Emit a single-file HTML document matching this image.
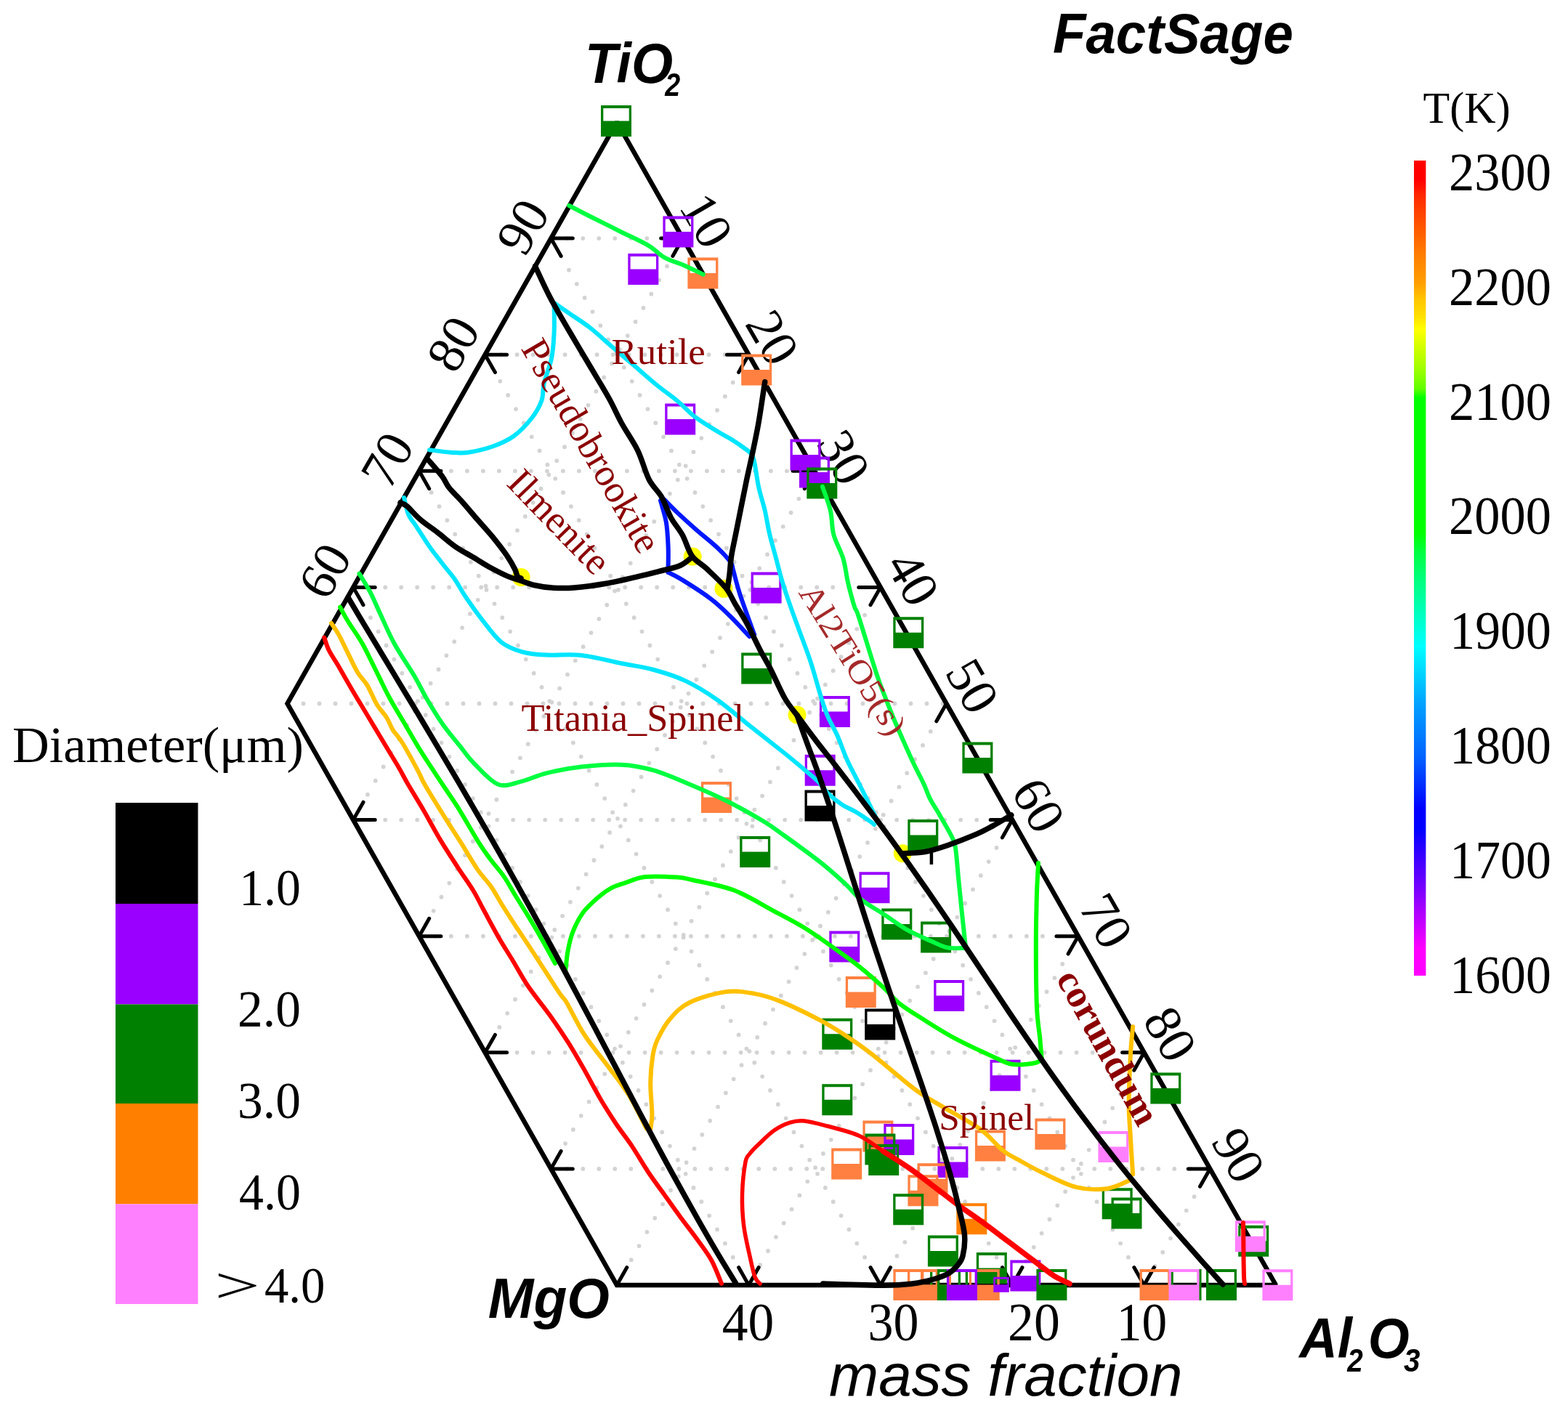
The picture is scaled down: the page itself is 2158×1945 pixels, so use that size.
<!DOCTYPE html>
<html><head><meta charset="utf-8"><title>FactSage TiO2-MgO-Al2O3</title>
<style>html,body{margin:0;padding:0;background:#fff;}svg{display:block;}</style></head>
<body><svg xmlns="http://www.w3.org/2000/svg" width="2158" height="1945" viewBox="0 0 2158 1945">
<rect width="2158" height="1945" fill="#fff"/>
<path d="M758.3,1608.9L1665.3,1608.9 M667.6,1448.8L1574.6,1448.8 M576.9,1288.7L1483.9,1288.7 M486.2,1128.6L1393.2,1128.6 M395.5,968.5L1302.5,968.5 M486.2,808.4L1211.8,808.4 M576.9,648.3L1121.1,648.3 M667.6,488.2L1030.4,488.2 M758.3,328.1L939.7,328.1 M939.7,328.1L486.2,1128.6 M1030.4,488.2L576.9,1288.7 M1121.1,648.3L667.6,1448.8 M1211.8,808.4L758.3,1608.9 M1302.5,968.5L849,1769 M1393.2,1128.6L1030.4,1769 M1483.9,1288.7L1211.8,1769 M1574.6,1448.8L1393.2,1769 M1665.3,1608.9L1574.6,1769 M1574.6,1769L758.3,328.1 M1393.2,1769L667.6,488.2 M1211.8,1769L576.9,648.3 M1030.4,1769L486.2,808.4" stroke="#d3d3d3" stroke-width="5.8" stroke-linecap="round" stroke-dasharray="0 22" fill="none"/>
<polygon points="849,168 395.5,968.5 849,1769 1756,1769" fill="none" stroke="#000" stroke-width="6.5" stroke-linejoin="miter" stroke-miterlimit="1.5"/>
<path d="M486.2,808.4L516.2,808.4 M486.2,808.4L500,832.8 M576.9,648.3L606.9,648.3 M576.9,648.3L590.7,672.7 M667.6,488.2L697.6,488.2 M667.6,488.2L681.4,512.6 M758.3,328.1L788.3,328.1 M758.3,328.1L772.1,352.5 M939.7,328.1L909.7,328.1 M939.7,328.1L925.9,352.5 M1030.4,488.2L1000.4,488.2 M1030.4,488.2L1016.6,512.6 M1121.1,648.3L1091.1,648.3 M1121.1,648.3L1107.3,672.7 M1211.8,808.4L1181.8,808.4 M1211.8,808.4L1198,832.8 M1302.5,968.5L1288.7,992.9 M1393.2,1128.6L1363.2,1128.6 M1393.2,1128.6L1379.4,1153 M1483.9,1288.7L1453.9,1288.7 M1483.9,1288.7L1470.1,1313.1 M1574.6,1448.8L1544.6,1448.8 M1574.6,1448.8L1560.8,1473.2 M1665.3,1608.9L1635.3,1608.9 M1665.3,1608.9L1651.5,1633.3 M1574.6,1769L1560.8,1744.6 M1574.6,1769L1588.4,1744.6 M1393.2,1769L1379.4,1744.6 M1393.2,1769L1407,1744.6 M1211.8,1769L1198,1744.6 M1211.8,1769L1225.6,1744.6 M1030.4,1769L1016.6,1744.6 M1030.4,1769L1044.2,1744.6 M849,1769L862.8,1744.6 M758.3,1608.9L788.3,1608.9 M758.3,1608.9L772.1,1584.5 M667.6,1448.8L697.6,1448.8 M667.6,1448.8L681.4,1424.4 M576.9,1288.7L606.9,1288.7 M576.9,1288.7L590.7,1264.3 M486.2,1128.6L516.2,1128.6 M486.2,1128.6L500,1104.2" stroke="#000" stroke-width="5" stroke-linecap="round" fill="none"/>
<text transform="translate(719.7,312.7) rotate(-60) translate(-35.5,23.5)" font-family="Liberation Serif, 'Times New Roman', serif" font-size="72" fill="#000">90</text>
<text transform="translate(624.2,473.6) rotate(-60) translate(-36,23.5)" font-family="Liberation Serif, 'Times New Roman', serif" font-size="72" fill="#000">80</text>
<text transform="translate(533.8,632.5) rotate(-60) translate(-37,23.5)" font-family="Liberation Serif, 'Times New Roman', serif" font-size="72" fill="#000">70</text>
<text transform="translate(447.5,786) rotate(-60) translate(-36,23.5)" font-family="Liberation Serif, 'Times New Roman', serif" font-size="72" fill="#000">60</text>
<text transform="translate(972.5,305) rotate(60) translate(-37.5,23.5)" font-family="Liberation Serif, 'Times New Roman', serif" font-size="72" fill="#000">10</text>
<text transform="translate(1062.5,465) rotate(60) translate(-36,23.5)" font-family="Liberation Serif, 'Times New Roman', serif" font-size="72" fill="#000">20</text>
<text transform="translate(1160.5,629.7) rotate(60) translate(-36,23.5)" font-family="Liberation Serif, 'Times New Roman', serif" font-size="72" fill="#000">30</text>
<text transform="translate(1255.3,795.6) rotate(60) translate(-35,23.5)" font-family="Liberation Serif, 'Times New Roman', serif" font-size="72" fill="#000">40</text>
<text transform="translate(1338,945) rotate(60) translate(-36.5,23.5)" font-family="Liberation Serif, 'Times New Roman', serif" font-size="72" fill="#000">50</text>
<text transform="translate(1428.8,1108.8) rotate(60) translate(-36,23.5)" font-family="Liberation Serif, 'Times New Roman', serif" font-size="72" fill="#000">60</text>
<text transform="translate(1522.5,1268.8) rotate(60) translate(-37,23.5)" font-family="Liberation Serif, 'Times New Roman', serif" font-size="72" fill="#000">70</text>
<text transform="translate(1610,1423.8) rotate(60) translate(-36,23.5)" font-family="Liberation Serif, 'Times New Roman', serif" font-size="72" fill="#000">80</text>
<text transform="translate(1703.8,1590) rotate(60) translate(-35.5,23.5)" font-family="Liberation Serif, 'Times New Roman', serif" font-size="72" fill="#000">90</text>
<text transform="translate(993.7,1845) scale(0.9797,1.0000)" font-family="Liberation Serif, 'Times New Roman', serif" font-size="73" fill="#000">40</text>
<text transform="translate(1194.6,1845) scale(0.9582,1.0000)" font-family="Liberation Serif, 'Times New Roman', serif" font-size="73" fill="#000">30</text>
<text transform="translate(1387.1,1845) scale(0.9821,1.0000)" font-family="Liberation Serif, 'Times New Roman', serif" font-size="73" fill="#000">20</text>
<text transform="translate(1536.8,1845) scale(0.9484,1.0000)" font-family="Liberation Serif, 'Times New Roman', serif" font-size="73" fill="#000">10</text>
<text transform="translate(1449,72.8) scale(0.9664,1.0000)" font-family="Liberation Sans, Arial, sans-serif" font-size="77" fill="#000" font-weight="bold" font-style="italic">FactSage</text>
<text transform="translate(805.1,114) scale(0.9537,1.0000)" font-family="Liberation Sans, Arial, sans-serif" font-size="77" fill="#000" font-weight="bold" font-style="italic">TiO</text>
<text transform="translate(915.2,131.9) scale(0.8560,1.0000)" font-family="Liberation Sans, Arial, sans-serif" font-size="44" fill="#000" font-weight="bold" font-style="italic">2</text>
<text transform="translate(671.8,1813.7) scale(0.9763,1.0000)" font-family="Liberation Sans, Arial, sans-serif" font-size="77" fill="#000" font-weight="bold" font-style="italic">MgO</text>
<text transform="translate(1788.2,1869) scale(0.9456,1.0000)" font-family="Liberation Sans, Arial, sans-serif" font-size="77" fill="#000" font-weight="bold" font-style="italic">Al</text>
<text transform="translate(1854.2,1887.8) scale(0.8800,1.0000)" font-family="Liberation Sans, Arial, sans-serif" font-size="44" fill="#000" font-weight="bold" font-style="italic">2</text>
<text transform="translate(1882.8,1869) scale(0.9509,1.0000)" font-family="Liberation Sans, Arial, sans-serif" font-size="77" fill="#000" font-weight="bold" font-style="italic">O</text>
<text transform="translate(1932,1887.8) scale(0.9167,1.0000)" font-family="Liberation Sans, Arial, sans-serif" font-size="44" fill="#000" font-weight="bold" font-style="italic">3</text>
<text transform="translate(1141,1921.2) scale(0.9979,1.0000)" font-family="Liberation Sans, Arial, sans-serif" font-size="82" fill="#000" font-style="italic">mass fraction</text>
<text transform="translate(17,1049) scale(1.0051,1.0000)" font-family="Liberation Serif, 'Times New Roman', serif" font-size="70" fill="#000">Diameter(μm)</text>
<rect x="159" y="1105" width="113.5" height="139" fill="#000000"/>
<rect x="159" y="1244" width="113.5" height="138.5" fill="#9900ff"/>
<rect x="159" y="1382.5" width="113.5" height="136.5" fill="#008000"/>
<rect x="159" y="1519" width="113.5" height="138.5" fill="#ff8000"/>
<rect x="159" y="1657.5" width="113.5" height="137.5" fill="#ff80ff"/>
<text transform="translate(329.2,1246) scale(0.9407,1.0000)" font-family="Liberation Serif, 'Times New Roman', serif" font-size="72" fill="#000">1.0</text>
<text transform="translate(327.1,1412.5) scale(0.9643,1.0000)" font-family="Liberation Serif, 'Times New Roman', serif" font-size="72" fill="#000">2.0</text>
<text transform="translate(327.1,1539) scale(0.9643,1.0000)" font-family="Liberation Serif, 'Times New Roman', serif" font-size="72" fill="#000">3.0</text>
<text transform="translate(329.1,1665) scale(0.9419,1.0000)" font-family="Liberation Serif, 'Times New Roman', serif" font-size="72" fill="#000">4.0</text>
<text transform="translate(295.2,1792.5) scale(1.5909,1.0000)" font-family="Liberation Serif, 'Times New Roman', serif" font-size="70" fill="#000">&gt;</text>
<text transform="translate(364,1792.5) scale(0.9524,1.0000)" font-family="Liberation Serif, 'Times New Roman', serif" font-size="70" fill="#000">4.0</text>
<defs><linearGradient id="cb" x1="0" y1="0" x2="0" y2="1"><stop offset="0" stop-color="#ff0000"/><stop offset="0.024" stop-color="#ff0000"/><stop offset="0.043" stop-color="#ff2800"/><stop offset="0.062" stop-color="#ff4000"/><stop offset="0.083" stop-color="#ff5800"/><stop offset="0.104" stop-color="#ff7000"/><stop offset="0.118" stop-color="#ff8000"/><stop offset="0.151" stop-color="#ffa000"/><stop offset="0.172" stop-color="#ffc800"/><stop offset="0.192" stop-color="#ffe000"/><stop offset="0.207" stop-color="#ffff00"/><stop offset="0.226" stop-color="#d8ff00"/><stop offset="0.255" stop-color="#a0ff00"/><stop offset="0.28" stop-color="#60ff00"/><stop offset="0.291" stop-color="#00ff00"/><stop offset="0.457" stop-color="#00ff00"/><stop offset="0.48" stop-color="#00ff40"/><stop offset="0.516" stop-color="#00ff80"/><stop offset="0.557" stop-color="#00ffc0"/><stop offset="0.596" stop-color="#00ffff"/><stop offset="0.668" stop-color="#00a0ff"/><stop offset="0.733" stop-color="#0060ff"/><stop offset="0.795" stop-color="#0000ff"/><stop offset="0.82" stop-color="#0000ff"/><stop offset="0.898" stop-color="#8000ff"/><stop offset="0.967" stop-color="#ff00ff"/><stop offset="1.0" stop-color="#ff00ff"/></linearGradient></defs>
<rect x="1946" y="221" width="16.4" height="1122" fill="url(#cb)"/>
<text transform="translate(1958.6,168.9) scale(0.9692,1.0000)" font-family="Liberation Serif, 'Times New Roman', serif" font-size="62" fill="#000">T(K)</text>
<text transform="translate(1994,261.7) scale(0.9521,1.0000)" font-family="Liberation Serif, 'Times New Roman', serif" font-size="74" fill="#000">2300</text>
<text transform="translate(1994,419.6) scale(0.9521,1.0000)" font-family="Liberation Serif, 'Times New Roman', serif" font-size="74" fill="#000">2200</text>
<text transform="translate(1994,577.5) scale(0.9521,1.0000)" font-family="Liberation Serif, 'Times New Roman', serif" font-size="74" fill="#000">2100</text>
<text transform="translate(1994,735.4) scale(0.9521,1.0000)" font-family="Liberation Serif, 'Times New Roman', serif" font-size="74" fill="#000">2000</text>
<text transform="translate(1995.3,893.3) scale(0.9424,1.0000)" font-family="Liberation Serif, 'Times New Roman', serif" font-size="74" fill="#000">1900</text>
<text transform="translate(1995.3,1051.2) scale(0.9424,1.0000)" font-family="Liberation Serif, 'Times New Roman', serif" font-size="74" fill="#000">1800</text>
<text transform="translate(1995.3,1209.1) scale(0.9424,1.0000)" font-family="Liberation Serif, 'Times New Roman', serif" font-size="74" fill="#000">1700</text>
<text transform="translate(1995.3,1367) scale(0.9424,1.0000)" font-family="Liberation Serif, 'Times New Roman', serif" font-size="74" fill="#000">1600</text>
<circle cx="717.1" cy="794.6" r="12.5" fill="#ffff00"/>
<circle cx="953.2" cy="766.1" r="12.5" fill="#ffff00"/>
<circle cx="996" cy="810.3" r="12.5" fill="#ffff00"/>
<circle cx="1097" cy="984" r="12.5" fill="#ffff00"/>
<circle cx="1242.3" cy="1174.7" r="12.5" fill="#ffff00"/>
<path d="M827,145h42v43h-42zM830.3,149v17.5h35.4v-17.5z" fill="#008000" fill-rule="evenodd"/>
<path d="M912.4,297.5h42v43h-42zM915.7,301.5v17.5h35.4v-17.5z" fill="#9900ff" fill-rule="evenodd"/>
<path d="M864.3,348.9h42v43h-42zM867.6,352.9v17.5h35.4v-17.5z" fill="#9900ff" fill-rule="evenodd"/>
<path d="M946.4,354.4h42v43h-42zM949.7,358.4v17.5h35.4v-17.5z" fill="#ff8040" fill-rule="evenodd"/>
<path d="M1020.2,487.4h42v43h-42zM1023.5,491.4v17.5h35.4v-17.5z" fill="#ff8040" fill-rule="evenodd"/>
<path d="M915.2,555.5h42v43h-42zM918.5,559.5v17.5h35.4v-17.5z" fill="#9900ff" fill-rule="evenodd"/>
<path d="M1087.5,604.5h42v43h-42zM1090.8,608.5v17.5h35.4v-17.5z" fill="#9900ff" fill-rule="evenodd"/>
<path d="M1100,628.5h42v43h-42zM1103.3,632.5v17.5h35.4v-17.5z" fill="#9900ff" fill-rule="evenodd"/>
<path d="M1110.3,643.4h42v43h-42zM1113.6,647.4v17.5h35.4v-17.5z" fill="#008000" fill-rule="evenodd"/>
<path d="M1033.6,787.6h42v43h-42zM1036.9,791.6v17.5h35.4v-17.5z" fill="#9900ff" fill-rule="evenodd"/>
<path d="M1229.3,849.2h42v43h-42zM1232.6,853.2v17.5h35.4v-17.5z" fill="#008000" fill-rule="evenodd"/>
<path d="M1020.2,898.5h42v43h-42zM1023.5,902.5v17.5h35.4v-17.5z" fill="#008000" fill-rule="evenodd"/>
<path d="M1127.9,957.9h42v43h-42zM1131.2,961.9v17.5h35.4v-17.5z" fill="#9900ff" fill-rule="evenodd"/>
<path d="M1324.4,1021.5h42v43h-42zM1327.7,1025.5v17.5h35.4v-17.5z" fill="#008000" fill-rule="evenodd"/>
<path d="M1107.7,1038.8h42v43h-42zM1111,1042.8v17.5h35.4v-17.5z" fill="#9900ff" fill-rule="evenodd"/>
<path d="M1107.5,1087.5h42v43h-42zM1110.8,1091.5v17.5h35.4v-17.5z" fill="#000000" fill-rule="evenodd"/>
<path d="M965,1076h42v43h-42zM968.3,1080v17.5h35.4v-17.5z" fill="#ff8040" fill-rule="evenodd"/>
<path d="M1018.2,1151.1h42v43h-42zM1021.5,1155.1v17.5h35.4v-17.5z" fill="#008000" fill-rule="evenodd"/>
<path d="M1249.3,1128.1h42v43h-42zM1252.6,1132.1v17.5h35.4v-17.5z" fill="#008000" fill-rule="evenodd"/>
<path d="M1182.5,1200.2h42v43h-42zM1185.8,1204.2v17.5h35.4v-17.5z" fill="#9900ff" fill-rule="evenodd"/>
<path d="M1213.3,1250.5h42v43h-42zM1216.6,1254.5v17.5h35.4v-17.5z" fill="#008000" fill-rule="evenodd"/>
<path d="M1267.1,1268.6h42v43h-42zM1270.4,1272.6v17.5h35.4v-17.5z" fill="#008000" fill-rule="evenodd"/>
<path d="M1141.3,1281.4h42v43h-42zM1144.6,1285.4v17.5h35.4v-17.5z" fill="#9900ff" fill-rule="evenodd"/>
<path d="M1163.8,1344h42v43h-42zM1167.1,1348v17.5h35.4v-17.5z" fill="#ff8040" fill-rule="evenodd"/>
<path d="M1190.2,1388.6h42v43h-42zM1193.5,1392.6v17.5h35.4v-17.5z" fill="#000000" fill-rule="evenodd"/>
<path d="M1285.2,1349h42v43h-42zM1288.5,1353v17.5h35.4v-17.5z" fill="#9900ff" fill-rule="evenodd"/>
<path d="M1131.3,1401.8h42v43h-42zM1134.6,1405.8v17.5h35.4v-17.5z" fill="#008000" fill-rule="evenodd"/>
<path d="M1362.5,1458.7h42v43h-42zM1365.8,1462.7v17.5h35.4v-17.5z" fill="#9900ff" fill-rule="evenodd"/>
<path d="M1583.3,1476.5h42v43h-42zM1586.6,1480.5v17.5h35.4v-17.5z" fill="#008000" fill-rule="evenodd"/>
<path d="M1131.3,1492.3h42v43h-42zM1134.6,1496.3v17.5h35.4v-17.5z" fill="#008000" fill-rule="evenodd"/>
<path d="M1424.4,1539.6h42v43h-42zM1427.7,1543.6v17.5h35.4v-17.5z" fill="#ff8040" fill-rule="evenodd"/>
<path d="M1511.4,1557.1h42v43h-42zM1514.7,1561.1v17.5h35.4v-17.5z" fill="#ff80ff" fill-rule="evenodd"/>
<path d="M1341.9,1555.4h42v43h-42zM1345.2,1559.4v17.5h35.4v-17.5z" fill="#ff8040" fill-rule="evenodd"/>
<path d="M1187.4,1542.4h42v43h-42zM1190.7,1546.4v17.5h35.4v-17.5z" fill="#ff8040" fill-rule="evenodd"/>
<path d="M1216.3,1547.1h42v43h-42zM1219.6,1551.1v17.5h35.4v-17.5z" fill="#9900ff" fill-rule="evenodd"/>
<path d="M1190.4,1560.6h42v43h-42zM1193.7,1564.6v17.5h35.4v-17.5z" fill="#008000" fill-rule="evenodd"/>
<path d="M1195.2,1575h42v43h-42zM1198.5,1579v17.5h35.4v-17.5z" fill="#008000" fill-rule="evenodd"/>
<path d="M1144.2,1580.4h42v43h-42zM1147.5,1584.4v17.5h35.4v-17.5z" fill="#ff8040" fill-rule="evenodd"/>
<path d="M1290.4,1577.9h42v43h-42zM1293.7,1581.9v17.5h35.4v-17.5z" fill="#9900ff" fill-rule="evenodd"/>
<path d="M1262.5,1601.3h42v43h-42zM1265.8,1605.3v17.5h35.4v-17.5z" fill="#ff8040" fill-rule="evenodd"/>
<path d="M1249.4,1617.3h42v43h-42zM1252.7,1621.3v17.5h35.4v-17.5z" fill="#ff8040" fill-rule="evenodd"/>
<path d="M1229.2,1643.3h42v43h-42zM1232.5,1647.3v17.5h35.4v-17.5z" fill="#008000" fill-rule="evenodd"/>
<path d="M1316.3,1656.3h42v43h-42zM1319.6,1660.3v17.5h35.4v-17.5z" fill="#ff8000" fill-rule="evenodd"/>
<path d="M1276.9,1700.4h42v43h-42zM1280.2,1704.4v17.5h35.4v-17.5z" fill="#008000" fill-rule="evenodd"/>
<path d="M1516.7,1635.2h42v43h-42zM1520,1639.2v17.5h35.4v-17.5z" fill="#008000" fill-rule="evenodd"/>
<path d="M1529.5,1648.4h42v43h-42zM1532.8,1652.4v17.5h35.4v-17.5z" fill="#008000" fill-rule="evenodd"/>
<path d="M1704.2,1686.8h42v43h-42zM1707.5,1690.8v17.5h35.4v-17.5z" fill="#008000" fill-rule="evenodd"/>
<path d="M1699.8,1680.2h42v43h-42zM1703.1,1684.2v17.5h35.4v-17.5z" fill="#ff80ff" fill-rule="evenodd"/>
<path d="M1343.8,1724h42v43h-42zM1347.1,1728v17.5h35.4v-17.5z" fill="#008000" fill-rule="evenodd"/>
<path d="M1390.3,1734.4h42v43h-42zM1393.6,1738.4v17.5h35.4v-17.5z" fill="#9900ff" fill-rule="evenodd"/>
<path d="M1280,1747h42v43h-42zM1283.3,1751v17.5h35.4v-17.5z" fill="#008000" fill-rule="evenodd"/>
<path d="M1229.4,1747h42v43h-42zM1232.7,1751v17.5h35.4v-17.5z" fill="#ff8040" fill-rule="evenodd"/>
<path d="M1249,1747h42v43h-42zM1252.3,1751v17.5h35.4v-17.5z" fill="#ff8040" fill-rule="evenodd"/>
<path d="M1267,1747h42v43h-42zM1270.3,1751v17.5h35.4v-17.5z" fill="#ff8040" fill-rule="evenodd"/>
<path d="M1290,1747h42v43h-42zM1293.3,1751v17.5h35.4v-17.5z" fill="#008000" fill-rule="evenodd"/>
<path d="M1333.7,1747h42v43h-42zM1337,1751v17.5h35.4v-17.5z" fill="#ff8040" fill-rule="evenodd"/>
<path d="M1302.9,1747h42v43h-42zM1306.2,1751v17.5h35.4v-17.5z" fill="#9900ff" fill-rule="evenodd"/>
<path d="M1426.4,1747h42v43h-42zM1429.7,1751v17.5h35.4v-17.5z" fill="#008000" fill-rule="evenodd"/>
<path d="M1568.5,1747h42v43h-42zM1571.8,1751v17.5h35.4v-17.5z" fill="#ff8040" fill-rule="evenodd"/>
<path d="M1611.5,1747h42v43h-42zM1614.8,1751v17.5h35.4v-17.5z" fill="#008000" fill-rule="evenodd"/>
<path d="M1608.5,1747h42v43h-42zM1611.8,1751v17.5h35.4v-17.5z" fill="#ff80ff" fill-rule="evenodd"/>
<path d="M1660,1747h42v43h-42zM1663.3,1751v17.5h35.4v-17.5z" fill="#008000" fill-rule="evenodd"/>
<path d="M1737.4,1747.2h42v43h-42zM1740.7,1751.2v17.5h35.4v-17.5z" fill="#ff80ff" fill-rule="evenodd"/>
<path d="M1367.3,1757.7h21.5v21h-21.5zM1369.8,1760.7v7.5h16.5v-7.5z" fill="#9900ff" fill-rule="evenodd"/>
<path d="M783.2,283 C788.6,285.8 803.6,293.6 815.4,299.5 C827.2,305.4 841,312.3 853.8,318.7 C866.6,325.1 882.2,331.9 892.3,337.9 C902.4,343.8 906,349.8 914.3,354.4 C922.5,359 932.9,361.5 941.8,365.4 C950.7,369.3 963.5,375.6 967.9,377.7" fill="none" stroke="#00ff40" stroke-width="6" stroke-linejoin="round" stroke-linecap="round"/>
<path d="M761.3,416 C765,418.6 774.9,425.5 783.3,431.3 C791.7,437.1 802,443.3 811.9,451 C821.8,458.7 832.4,468.7 842.6,477.5 C852.9,486.3 863.1,495 873.4,503.8 C883.7,512.6 894.3,522.1 904.2,530.2 C914.1,538.3 923.9,544.9 932.7,552.2 C941.5,559.5 947.7,567.2 956.9,574.2 C966.1,581.2 978.9,588.5 987.7,594 C996.6,599.5 1002.8,602.4 1010,607 C1017.2,611.6 1027.3,619 1030.8,621.4" fill="none" stroke="#00e6ff" stroke-width="6" stroke-linejoin="round" stroke-linecap="round"/>
<path d="M1030.8,621.4 C1031.9,623.2 1035.2,624.3 1037.4,632.4 C1039.6,640.5 1041.5,658.1 1044,669.8 C1046.5,681.5 1050.2,691.7 1052.7,702.7 C1055.2,713.7 1056.7,724.7 1059.3,735.7 C1061.9,746.7 1065.2,757.7 1068.1,768.7 C1071,779.7 1073.6,790.6 1076.9,801.6 C1080.2,812.6 1084.1,823.5 1087.9,834.6 C1091.8,845.7 1095.3,855.1 1100,868 C1104.7,880.9 1110.9,896.6 1115.9,911.9 C1120.9,927.2 1126.2,947.6 1130.1,960 C1134,972.4 1135.6,977.6 1139.3,986.4 C1143,995.2 1148.1,1002.8 1152.5,1012.7 C1156.9,1022.6 1161.3,1035.8 1165.7,1045.7 C1170.1,1055.6 1174.5,1063.3 1178.9,1072.1 C1183.3,1080.9 1187.7,1089.6 1192.1,1098.4 C1196.5,1107.2 1202.4,1119.1 1205.2,1124.8 C1208,1130.5 1208.4,1131.4 1209,1132.7" fill="none" stroke="#00e6ff" stroke-width="6" stroke-linejoin="round" stroke-linecap="round"/>
<path d="M762.6,419.9 C762.6,426.2 763.2,445.9 762.6,458 C762,470.1 761.5,481.1 759.2,492.7 C756.9,504.3 751.1,517.6 748.8,527.4 C746.5,537.2 748.2,543.6 745.3,551.7 C742.4,559.8 737.8,567.9 731.4,576 C725,584.1 715.8,593.9 707.1,600.2 C698.4,606.5 689.8,610.2 679.4,614 C669,617.8 654.5,621.2 644.7,622.7 C634.9,624.2 629.5,623.3 620.5,622.7 C611.5,622.1 595.9,619.9 591,619.3" fill="none" stroke="#00e6ff" stroke-width="6" stroke-linejoin="round" stroke-linecap="round"/>
<path d="M556,685 C557,688.8 559.3,701.6 562,708 C564.7,714.4 567.4,716.1 572.1,723.3 C576.8,730.5 584.2,742.4 590.2,751.1 C596.2,759.8 602.4,767.4 608.4,775.3 C614.4,783.1 621.3,790.8 626.5,798.2 C631.7,805.7 633.6,810.8 639.8,820 C646,829.2 655.3,842.6 663.7,853.3 C672.1,864 680.9,876.8 690.1,884.1 C699.3,891.4 708.5,894.4 718.7,897.3 C729,900.2 738.1,900.8 751.6,901.6 C765.1,902.4 782.6,900.1 800,902 C817.4,903.9 839.2,909.9 855.8,913.2 C872.4,916.5 885.1,918 899.8,922 C914.4,926 929.1,930.4 943.7,937.4 C958.4,944.4 973.1,953.5 987.7,963.7 C1002.4,974 1016.2,986.7 1031.6,998.9 C1047,1011.1 1067.5,1027 1080,1037 C1092.5,1047 1098.7,1052.4 1106.4,1058.9 C1114.1,1065.4 1120.6,1070.5 1126.1,1076 C1131.6,1081.5 1133.8,1086.5 1139.3,1091.8 C1144.8,1097.1 1152.5,1103.3 1159.1,1107.7 C1165.7,1112.1 1172.3,1114.2 1178.9,1118.2 C1185.5,1122.2 1194.7,1128.6 1198.7,1131.4 C1202.7,1134.2 1202.3,1134.4 1203,1135" fill="none" stroke="#00e6ff" stroke-width="6" stroke-linejoin="round" stroke-linecap="round"/>
<path d="M1131.9,669.8 C1133.7,675.3 1140.3,691.7 1142.9,702.7 C1145.5,713.7 1144.4,724.7 1147.3,735.7 C1150.2,746.7 1157.1,757.7 1160.4,768.7 C1163.7,779.7 1164.4,790.6 1167,801.6 C1169.6,812.6 1173.3,826.7 1175.8,834.6 C1178.3,842.5 1176.8,833.6 1181.9,849.2 C1187,864.8 1200.5,909.8 1206.6,928.3 C1212.7,946.8 1214.2,949.2 1218.4,960 C1222.6,970.8 1227.2,982.5 1231.6,993 C1236,1003.5 1240.4,1013.4 1244.8,1023.3 C1249.2,1033.2 1253.6,1043.1 1258,1052.3 C1262.4,1061.5 1267.5,1070.8 1271.2,1078.7 C1274.9,1086.6 1276.8,1093.2 1280,1099.7 C1283.2,1106.2 1286,1109.5 1290.7,1117.6 C1295.4,1125.7 1304.2,1140.4 1308.2,1148.4 C1312.2,1156.5 1313,1155.7 1314.8,1165.9 C1316.6,1176.2 1317.7,1195.2 1319.2,1209.9 C1320.7,1224.6 1322,1238.1 1323.6,1253.8 C1325.2,1269.5 1328.1,1295.6 1329,1304" fill="none" stroke="#00ff40" stroke-width="6" stroke-linejoin="round" stroke-linecap="round"/>
<path d="M494.5,789.6 C497.1,794 505.1,806.8 509.9,815.9 C514.7,825 517.6,832.8 523.1,844.5 C528.6,856.2 534.9,871.6 542.9,886.3 C550.9,900.9 564.1,919.9 571.4,932.4 C578.7,944.9 580.6,950.4 586.8,961 C593,971.6 601.1,985.2 608.8,996.2 C616.5,1007.2 625.7,1017.8 633,1026.9 C640.3,1036.1 643.9,1042.3 652.7,1051.1 C661.5,1059.9 674.7,1075.7 685.7,1079.7 C696.7,1083.7 707.7,1077.9 718.7,1075.3 C729.7,1072.7 738.1,1067.6 751.6,1064.3 C765.1,1061 782.6,1057.4 800,1055.5 C817.4,1053.6 839.2,1051.9 855.8,1052.7 C872.4,1053.5 884.1,1055.9 899.8,1060.4 C915.5,1065 933.3,1073 950,1080 C966.7,1087 983.3,1094.2 1000,1102.5 C1016.7,1110.8 1036.8,1122.1 1050,1130 C1063.2,1137.9 1065.8,1140.4 1079.1,1150 C1092.4,1159.6 1115.8,1176.4 1129.7,1187.4 C1143.6,1198.4 1153.4,1207.5 1162.6,1215.9 C1171.8,1224.3 1175.7,1230.9 1184.6,1237.9 C1193.5,1245 1205.2,1251.2 1215.9,1258.2 C1226.6,1265.2 1237.9,1274 1248.9,1280.2 C1259.9,1286.4 1272.8,1291.6 1281.9,1295.6 C1291.1,1299.6 1296,1302.8 1303.8,1304.4 C1311.6,1306 1324.8,1304.9 1329,1305" fill="none" stroke="#00ff40" stroke-width="6" stroke-linejoin="round" stroke-linecap="round"/>
<path d="M468.1,835.7 C469.9,839 474,847.1 479.1,855.5 C484.2,863.9 491.9,873.8 498.9,886.3 C505.9,898.8 514.7,917.8 520.9,930.2 C527.1,942.7 530.1,949.6 536.3,961 C542.5,972.4 550.9,985.9 558.2,998.4 C565.5,1010.9 571.7,1022.1 580.2,1035.7 C588.7,1049.3 600.9,1067.3 609.2,1080 C617.6,1092.7 622.1,1098.5 630.3,1111.7 C638.5,1124.9 651.2,1147.4 658.5,1159.1 C665.8,1170.8 668.4,1174.1 674.3,1182 C680.1,1189.9 687.7,1198.1 693.6,1206.6 C699.5,1215.1 703.9,1223.9 709.5,1233 C715.1,1242.1 721.1,1251.4 727,1261.1 C732.9,1270.8 738.4,1280.2 744.6,1291 C750.8,1301.8 760.8,1320.3 764,1326.2" fill="none" stroke="#00ff00" stroke-width="6" stroke-linejoin="round" stroke-linecap="round"/>
<path d="M778,1338.5 C778.6,1333.5 779.8,1318 781.6,1308.6 C783.4,1299.2 785.1,1291 788.6,1282.2 C792.1,1273.4 796.8,1263.7 802.7,1255.8 C808.6,1247.9 817.4,1240.3 823.8,1234.7 C830.2,1229.1 835.3,1225.6 841.3,1222.4 C847.3,1219.2 852.2,1218 860,1215.4 C867.8,1212.9 875.9,1208.4 887.9,1207.1 C899.9,1205.8 920.9,1206.9 931.9,1207.6 C942.9,1208.3 940.6,1208.5 953.8,1211.5 C967,1214.5 992.7,1218.8 1011,1225.8 C1029.3,1232.8 1047.6,1244.7 1063.7,1253.3 C1079.8,1261.9 1093.3,1268.6 1107.7,1277.5 C1122.1,1286.4 1137.5,1297.7 1150,1306.6 C1162.5,1315.5 1172,1322 1183,1330.8 C1194,1339.6 1206.8,1350.9 1215.9,1359.3 C1225.1,1367.7 1228.7,1374 1237.9,1381.3 C1247.1,1388.6 1258.1,1395.2 1270.9,1403.3 C1283.7,1411.4 1298.3,1420.9 1314.8,1429.7 C1331.3,1438.5 1357,1450.2 1369.8,1456 C1382.6,1461.8 1384.5,1463.3 1391.8,1464.8 C1399.1,1466.3 1407.5,1465.3 1413.7,1464.8 C1419.9,1464.2 1425.8,1463 1429.1,1461.5 C1432.4,1460 1432.8,1456.9 1433.5,1456" fill="none" stroke="#00ff00" stroke-width="6" stroke-linejoin="round" stroke-linecap="round"/>
<path d="M1429,1188 C1428.7,1195.3 1427.4,1213.6 1426.9,1231.9 C1426.4,1250.2 1425.8,1272.2 1425.8,1297.8 C1425.8,1323.4 1426,1363.7 1426.9,1385.7 C1427.8,1407.7 1430.2,1418 1431.3,1429.7 C1432.4,1441.4 1433.1,1451.6 1433.5,1456" fill="none" stroke="#00ff00" stroke-width="6" stroke-linejoin="round" stroke-linecap="round"/>
<path d="M456,857.7 C457.6,860.3 462.4,866.9 465.9,873.1 C469.4,879.3 472.5,886.3 476.9,895.1 C481.3,903.9 487.5,917.8 492.3,925.8 C497.1,933.8 501.1,936.1 505.5,943.4 C509.9,950.7 514.3,962.5 518.7,969.8 C523.1,977.1 528.2,981.5 531.9,987.4 C535.6,993.2 537.1,999 540.7,1004.9 C544.4,1010.8 547.9,1013 553.8,1022.5 C559.6,1032 570.7,1052.5 575.8,1062.1 C580.9,1071.7 579,1070.3 584.6,1080 C590.2,1089.7 601,1107.2 609.2,1120.4 C617.4,1133.6 626,1146.5 633.9,1159.1 C641.8,1171.7 649.7,1185.8 656.7,1196.1 C663.7,1206.4 670.2,1212.2 676.1,1220.7 C682,1229.2 686,1237.6 691.9,1247 C697.8,1256.4 705.1,1267.6 711.2,1277 C717.4,1286.4 722.6,1293.9 728.8,1303.3 C734.9,1312.7 741.1,1322.3 748.1,1333.2 C755.1,1344.1 765.7,1360.6 771,1368.4 C776.3,1376.2 774.3,1370.7 779.8,1380 C785.3,1389.3 794.5,1409.3 804,1424 C813.5,1438.7 826.6,1454 836.9,1467.9 C847.1,1481.8 856.7,1493.2 865.5,1507.5 C874.3,1521.8 885.7,1545.9 889.7,1553.6" fill="none" stroke="#ffc000" stroke-width="6" stroke-linejoin="round" stroke-linecap="round"/>
<path d="M895,1556 C895.4,1552.3 897.4,1544.8 897.4,1533.8 C897.4,1522.8 895,1503.5 895.2,1489.9 C895.4,1476.4 896.9,1462.4 898.5,1452.5 C900.1,1442.6 901.1,1438.9 905.1,1430.5 C909.1,1422.1 915.3,1410.4 922.6,1402 C929.9,1393.6 936.5,1386.1 949,1380 C961.5,1373.9 983.1,1367.5 997.8,1365.4 C1012.5,1363.3 1024.6,1365.4 1037.4,1367.6 C1050.2,1369.8 1059.3,1372.4 1074.7,1378.6 C1090.1,1384.8 1115.1,1397.2 1129.7,1404.9 C1144.3,1412.6 1150.9,1417 1162.6,1424.7 C1174.3,1432.4 1183.8,1438.5 1200,1451.1 C1216.2,1463.6 1243.2,1487.7 1259.9,1500 C1276.6,1512.3 1285,1515.8 1300,1525 C1315,1534.2 1336.7,1545.2 1350,1555 C1363.3,1564.8 1371.3,1576.5 1380,1583.5 C1388.7,1590.5 1392.8,1591.6 1402,1596.7 C1411.2,1601.8 1421.7,1608.1 1434.9,1614.3 C1448.1,1620.5 1466.4,1630.4 1481.1,1634.1 C1495.8,1637.8 1510.5,1637.9 1522.9,1636.3 C1535.4,1634.7 1550.3,1626.2 1555.8,1624.2" fill="none" stroke="#ffc000" stroke-width="6" stroke-linejoin="round" stroke-linecap="round"/>
<path d="M1559.1,1413.2 C1558.5,1420 1556.7,1436 1555.8,1453.8 C1554.9,1471.6 1553.6,1501.5 1553.6,1519.8 C1553.6,1538.1 1554.9,1547.6 1555.8,1563.7 C1556.7,1579.8 1558.5,1607.7 1559.1,1616.5" fill="none" stroke="#ffc000" stroke-width="6" stroke-linejoin="round" stroke-linecap="round"/>
<path d="M446.2,877.5 C447.3,880.4 449.4,888.5 452.7,895.1 C456,901.7 460.8,908.2 465.9,917 C471,925.8 478.4,939 483.5,947.8 C488.6,956.6 492.3,962.5 496.7,969.8 C501.1,977.1 505.5,984.5 509.9,991.8 C514.3,999.1 518.7,1006.4 523.1,1013.7 C527.5,1021 531.9,1028.4 536.3,1035.7 C540.7,1043 545.2,1050.3 549.5,1057.7 C553.8,1065.1 556.2,1070.4 561.8,1080 C567.4,1089.6 575.6,1102.6 582.9,1115.2 C590.2,1127.8 597.8,1142.4 605.7,1155.6 C613.6,1168.8 622.7,1182.6 630.3,1194.3 C637.9,1206 645.5,1216.3 651.4,1226 C657.3,1235.7 659.6,1241.5 665.5,1252.3 C671.4,1263.1 679.9,1279.3 686.6,1291 C693.4,1302.7 699.3,1311.6 706,1322.7 C712.7,1333.8 718.7,1345.5 727,1357.8 C735.3,1370.1 746.8,1383.7 756,1396.5 C765.2,1409.3 774,1422.3 782,1434.9 C790,1447.5 796.7,1459.5 804,1472.3 C811.3,1485.1 818.6,1499.5 825.9,1511.9 C833.2,1524.4 840.6,1536 847.9,1547 C855.2,1558 862.6,1566.8 869.9,1577.8 C877.2,1588.8 884.6,1602 891.9,1613 C899.2,1624 906.5,1633.5 913.8,1643.7 C921.1,1654 927.7,1663.5 935.8,1674.5 C943.9,1685.5 954.9,1699.5 962.2,1709.7 C969.5,1720 974.7,1726.5 979.8,1736 C984.9,1745.5 990.8,1761.7 993,1766.8" fill="none" stroke="#ff0000" stroke-width="6" stroke-linejoin="round" stroke-linecap="round"/>
<path d="M1046,1767 C1044.8,1765.5 1041.3,1763.9 1039.1,1758 C1036.8,1752.1 1035.1,1743.3 1032.5,1731.6 C1029.9,1719.9 1025.5,1702.3 1023.7,1687.7 C1021.9,1673.1 1021.1,1658.4 1021.5,1643.7 C1021.9,1629 1024.2,1609.1 1025.9,1599.8 C1027.7,1590.5 1029.1,1592 1032,1588 C1034.9,1584 1037.8,1581.1 1043.4,1575.8 C1049,1570.5 1058.1,1561.1 1065.4,1556 C1072.7,1550.9 1080.5,1547.3 1087.4,1545.1 C1094.4,1542.9 1098.6,1542.1 1107.1,1542.9 C1115.6,1543.7 1125.9,1546.6 1138.5,1550 C1151.1,1553.4 1169.9,1557.7 1182.7,1563.5 C1195.5,1569.3 1203.6,1576.9 1215.4,1584.6 C1227.2,1592.3 1247.4,1605.4 1253.8,1609.6" fill="none" stroke="#ff0000" stroke-width="5.5" stroke-linejoin="round" stroke-linecap="round"/>
<path d="M1215.4,1584.6 C1221.8,1588.8 1241,1600.6 1253.8,1609.6 C1266.6,1618.6 1281.7,1630.5 1292.3,1638.5 C1302.9,1646.5 1307.7,1650.7 1317.3,1657.7 C1326.9,1664.8 1338.1,1672.2 1350,1680.8 C1361.9,1689.4 1375.7,1700 1388.5,1709.6 C1401.3,1719.2 1416.7,1730.8 1426.9,1738.5 C1437.2,1746.2 1442.5,1751 1450,1755.8 C1457.5,1760.5 1468.3,1765.1 1472,1767" fill="none" stroke="#ff0000" stroke-width="7.5" stroke-linejoin="round" stroke-linecap="round"/>
<path d="M1711,1683 C1711,1686.3 1711.2,1695.2 1711.3,1703 C1711.4,1710.8 1711.4,1721 1711.5,1730 C1711.6,1739 1711.8,1750.8 1712,1757 C1712.2,1763.2 1712.8,1765.3 1713,1767" fill="none" stroke="#ff0000" stroke-width="6" stroke-linejoin="round" stroke-linecap="round"/>
<path d="M909,689 C910.3,694 915.1,708.8 916.9,719.3 C918.7,729.8 919.1,742 919.6,752.3 C920.1,762.6 919.6,775.4 919.6,781.3 C919.6,787.2 919.6,786.8 919.6,787.9" fill="none" stroke="#0018ff" stroke-width="6" stroke-linejoin="round" stroke-linecap="round"/>
<path d="M919.6,787.9 C922.9,789.6 929.4,792.2 939.3,798.4 C949.2,804.5 967.9,816.4 978.9,824.8 C989.9,833.1 996.4,839.9 1005.2,848.5 C1014,857.1 1027.2,871.6 1031.6,876.2" fill="none" stroke="#0018ff" stroke-width="6" stroke-linejoin="round" stroke-linecap="round"/>
<path d="M914.3,687.7 C917.4,690.8 925.2,699.1 932.7,706.1 C940.2,713.1 950.3,722.2 959.1,729.9 C967.9,737.6 977.8,745 985.5,752.3 C993.2,759.5 1001.2,767.9 1005.2,773.4 C1009.2,778.9 1007,777.7 1009.2,785.2 C1011.4,792.7 1013.6,803.5 1018.4,818.2 C1023.2,832.9 1034.9,864.4 1038.2,873.6" fill="none" stroke="#0018ff" stroke-width="6" stroke-linejoin="round" stroke-linecap="round"/>
<path d="M736.6,366.5 C740,373.6 749.2,394.5 757,409.3 C764.8,424.1 774.1,439.7 783.3,455.5 C792.5,471.3 802.9,488.6 812,504 C821.1,519.4 830.7,534.8 838,548 C845.3,561.2 849.2,571 855.8,583 C862.4,595 871.6,607.5 877.8,620.3 C884,633.1 887.8,649.4 893.2,660 C898.6,670.6 905.2,674.9 910.3,683.7 C915.3,692.5 918.7,703.9 923.5,712.7 C928.3,721.5 934.5,727.7 939.3,736.5 C944.1,745.3 947,757.8 952.5,765.5 C958,773.2 964.6,775.4 972.3,782.6 C980,789.9 992.1,800.9 998.7,809 C1005.3,817.1 1007,823.3 1011.8,831.4 C1016.6,839.5 1022,847.2 1027.7,857.8 C1033.4,868.3 1040.7,884.3 1046.1,894.7 C1051.5,905.1 1054.3,909 1060,920 C1065.7,931 1073.8,950.2 1080,961 C1086.2,971.8 1094.2,980.6 1097,984.5" fill="none" stroke="#000" stroke-width="7.5" stroke-linejoin="round" stroke-linecap="round"/>
<path d="M1052.7,525.8 C1051.2,535.1 1046.9,565.2 1044,581.9 C1041.1,598.6 1037.9,612.8 1035.2,625.8 C1032.5,638.8 1030.3,647.7 1027.7,660 C1025.1,672.3 1022.4,686.4 1019.7,699.6 C1017.1,712.8 1014,728.1 1011.8,739.1 C1009.6,750.1 1007.9,756.7 1006.6,765.5 C1005.3,774.3 1004.8,784.5 1003.9,791.8 C1003,799 1001.7,806.1 1001.3,809" fill="none" stroke="#000" stroke-width="7.5" stroke-linejoin="round" stroke-linecap="round"/>
<path d="M589,632.6 C592.2,636.4 603.6,649.2 608.4,655.6 C613.2,662 613.6,665.6 618,671.3 C622.4,676.9 628.5,682.2 635,689.5 C641.5,696.8 649.1,705.9 656.7,714.8 C664.4,723.6 673.9,733.9 680.9,742.6 C687.9,751.3 694.4,759.9 699,766.8 C703.6,773.6 706.5,779.3 708.7,783.7 C710.9,788.1 710.9,791.4 712.3,793.4 C713.7,795.4 716.2,795.6 717,796" fill="none" stroke="#000" stroke-width="7.5" stroke-linejoin="round" stroke-linecap="round"/>
<path d="M551,692 C552.5,692.8 555.5,692.9 560,696.7 C564.5,700.5 571.1,708.8 578.1,714.8 C585.1,720.8 594.2,726.8 602.3,733 C610.4,739.2 618.4,746.7 626.5,752.3 C634.6,757.9 642.7,762 650.7,766.8 C658.8,771.6 666.8,776.9 674.8,781.3 C682.8,785.7 692,790.4 699,793.4 C706,796.4 711.1,797.5 717.1,799.5 C723.1,801.5 728.2,803.9 735.3,805.5 C742.4,807.1 750.4,808.5 759.5,809.1 C768.6,809.7 777.6,810 790,809 C802.4,808 818.8,805.9 833.8,803.3 C848.8,800.7 867.9,796 880,793.2 C892.1,790.4 897.2,789 906.4,786.6 C915.6,784.2 927.7,782 935.4,778.7 C943.1,775.4 949.6,768.8 952.5,766.8" fill="none" stroke="#000" stroke-width="7.5" stroke-linejoin="round" stroke-linecap="round"/>
<path d="M1097,984.5 C1099.2,990.8 1105.9,1009.7 1110.5,1022.2 C1115.1,1034.8 1119.9,1047.2 1124.4,1059.8 C1128.9,1072.3 1133.2,1085 1137.5,1097.5 C1141.8,1110 1145.8,1122.5 1149.9,1135.1 C1154,1147.6 1158,1160.2 1162,1172.8 C1166,1185.3 1169.9,1197.9 1173.9,1210.4 C1177.9,1223 1181.9,1235.5 1185.9,1248.1 C1189.9,1260.7 1193.9,1273.2 1198,1285.8 C1202.1,1298.3 1206.2,1310.9 1210.4,1323.4 C1214.6,1336 1218.8,1348.5 1223,1361.1 C1227.2,1373.6 1231.6,1386.2 1235.9,1398.7 C1240.2,1411.2 1244.6,1423.8 1248.9,1436.4 C1253.2,1449 1257.6,1461.5 1261.9,1474.1 C1266.2,1486.6 1270.6,1499.2 1274.8,1511.7 C1279,1524.2 1283.2,1536.9 1287.3,1549.4 C1291.3,1562 1295.3,1574.5 1299.1,1587 C1302.9,1599.5 1306.7,1612.2 1310.1,1624.7 C1313.5,1637.2 1316.7,1649.8 1319.6,1662.3 C1322.5,1674.8 1326.6,1688.9 1327.5,1700 C1328.4,1711.1 1326.7,1721.8 1325,1728.8 C1323.3,1735.8 1320.8,1738.1 1317.3,1742.3 C1313.8,1746.5 1309.6,1750.6 1303.8,1753.8 C1298,1757 1291,1759.2 1282.7,1761.5 C1274.4,1763.8 1265,1766 1253.8,1767.3 C1242.6,1768.6 1235.6,1769.2 1215.4,1769.2 C1195.2,1769.2 1146.5,1767.4 1132.7,1767" fill="none" stroke="#000" stroke-width="7.5" stroke-linejoin="round" stroke-linecap="round"/>
<path d="M1097,984.5 C1101.2,990.2 1113.6,1007.2 1122.3,1018.6 C1131,1030 1140.1,1041.2 1148.9,1052.6 C1157.7,1063.9 1166.4,1075.3 1175.1,1086.7 C1183.8,1098.1 1192.3,1109.5 1200.8,1120.8 C1209.3,1132.1 1217.7,1143.4 1226,1154.8 C1234.3,1166.2 1242.4,1177.5 1250.5,1188.9 C1258.6,1200.3 1266.5,1211.7 1274.4,1223 C1282.3,1234.3 1290.1,1245.7 1297.8,1257 C1305.5,1268.3 1313.2,1279.7 1320.8,1291.1 C1328.4,1302.5 1335.9,1313.8 1343.5,1325.2 C1351.1,1336.6 1358.6,1347.9 1366.2,1359.2 C1373.8,1370.5 1381.3,1382 1388.9,1393.3 C1396.5,1404.6 1404.2,1415.9 1412,1427.3 C1419.8,1438.7 1427.5,1450 1435.4,1461.4 C1443.3,1472.8 1451.3,1484.2 1459.5,1495.5 C1467.7,1506.8 1475.9,1518.2 1484.3,1529.5 C1492.7,1540.8 1501.3,1552.2 1510,1563.6 C1518.7,1575 1527.7,1586.3 1536.7,1597.7 C1545.8,1609.1 1555,1620.4 1564.3,1631.7 C1573.6,1643 1583.1,1654.4 1592.8,1665.8 C1602.5,1677.2 1612.3,1688.6 1622.2,1699.9 C1632.1,1711.2 1642.1,1722.6 1652.2,1733.9 C1662.3,1745.2 1677.9,1762.3 1683,1768" fill="none" stroke="#000" stroke-width="7.5" stroke-linejoin="round" stroke-linecap="round"/>
<path d="M1242.3,1174.7 C1247.4,1174.3 1262.8,1174.3 1273.1,1172.5 C1283.3,1170.7 1292.1,1167.7 1303.8,1163.7 C1315.5,1159.7 1333.1,1152.8 1343.4,1148.4 C1353.7,1144 1357.3,1141.8 1365.4,1137.4 C1373.5,1133 1387.4,1124.6 1391.8,1122" fill="none" stroke="#000" stroke-width="7.5" stroke-linejoin="round" stroke-linecap="round"/>
<line x1="1281.9" y1="1174" x2="1281.9" y2="1190" stroke="#000" stroke-width="4.5" stroke-linecap="butt"/>
<path d="M479.1,822.5 C483,829.1 494.6,848.8 502.5,861.9 C510.4,875 518.3,888.1 526.2,901.2 C534.1,914.3 542,927.5 549.9,940.6 C557.8,953.7 565.7,966.8 573.6,979.9 C581.5,993 589.3,1006.2 597.1,1019.3 C604.9,1032.4 612.7,1045.5 620.4,1058.6 C628.1,1071.7 635.9,1084.9 643.5,1098 C651.1,1111.1 658.8,1124.2 666.3,1137.3 C673.8,1150.4 681.4,1163.6 688.8,1176.7 C696.2,1189.8 703.6,1202.9 710.9,1216 C718.2,1229.1 725.5,1242.3 732.8,1255.4 C740,1268.5 747.2,1281.7 754.4,1294.8 C761.5,1307.9 768.7,1321 775.7,1334.1 C782.8,1347.2 789.7,1360.4 796.7,1373.5 C803.7,1386.6 810.7,1399.7 817.6,1412.8 C824.5,1425.9 831.5,1439.1 838.4,1452.2 C845.3,1465.3 852.3,1478.4 859.2,1491.5 C866.1,1504.6 873,1517.8 880,1530.9 C887,1544 893.9,1557.1 900.9,1570.2 C907.9,1583.3 915,1596.5 922.2,1609.6 C929.4,1622.7 936.6,1635.8 943.9,1648.9 C951.2,1662 958.6,1675.2 966.1,1688.3 C973.6,1701.4 981.2,1714.5 989,1727.6 C996.8,1740.7 1009,1760.4 1013,1767" fill="none" stroke="#000" stroke-width="7.5" stroke-linejoin="round" stroke-linecap="round"/>
<text transform="translate(841.5,500.7) scale(1.0377,1.0000)" font-family="Liberation Serif, 'Times New Roman', serif" font-size="51" fill="#8b0000">Rutile</text>
<text transform="translate(814,613) rotate(60) translate(-164.5,18)" font-family="Liberation Serif, 'Times New Roman', serif" font-size="53" fill="#8b0000">Pseudobrookite</text>
<text transform="translate(770,718) rotate(46) translate(-88.5,18)" font-family="Liberation Serif, 'Times New Roman', serif" font-size="53" fill="#8b0000">Ilmenite</text>
<text transform="translate(717.5,1005.5) scale(0.9883,1.0000)" font-family="Liberation Serif, 'Times New Roman', serif" font-size="53" fill="#8b0000">Titania_Spinel</text>
<text transform="translate(1170,909) rotate(58) translate(-117,11.5) scale(1.1090,1.0000)" font-family="Liberation Serif, 'Times New Roman', serif" font-size="46" fill="#a52a2a">Al2TiO5(s)</text>
<text transform="translate(1292.2,1554.8) scale(1.0063,1.0000)" font-family="Liberation Serif, 'Times New Roman', serif" font-size="51" fill="#8b0000">Spinel</text>
<text transform="translate(1526,1442) rotate(61) translate(-118.5,18)" font-family="Liberation Serif, 'Times New Roman', serif" font-size="53" fill="#8b0000" font-weight="bold">corundum</text>
</svg></body></html>
